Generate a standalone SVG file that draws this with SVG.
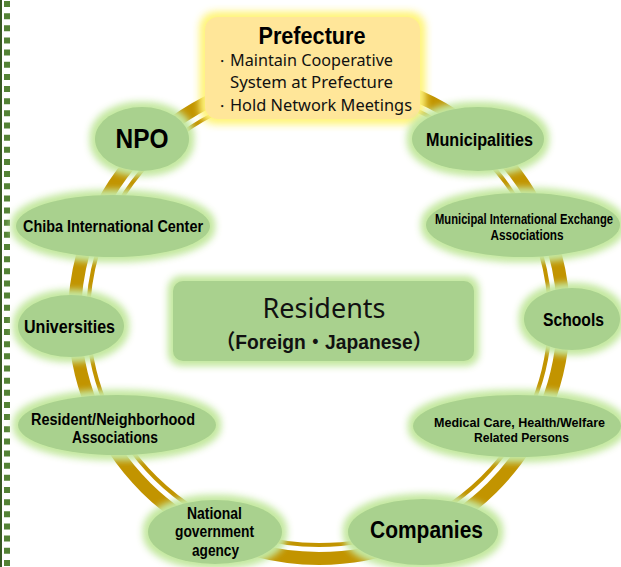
<svg xmlns="http://www.w3.org/2000/svg" width="621" height="567" viewBox="0 0 621 567">
<defs>
<style>
.node{fill:#A9D18E;}
.lbl{font-family:"Liberation Sans",Arial,sans-serif;font-weight:bold;fill:#000;text-anchor:middle;}
.reg{font-family:"Noto Sans","Liberation Sans",sans-serif;fill:#111;}
.ring{fill:none;stroke:#C29400;}
</style>
<filter id="gG" x="-30%" y="-40%" width="160%" height="180%">
<feMorphology in="SourceAlpha" operator="dilate" radius="3" result="d"/>
<feGaussianBlur in="d" stdDeviation="4" result="b"/>
<feFlood flood-color="#C4E8A0"/>
<feComposite in2="b" operator="in" result="g"/>
<feMerge><feMergeNode in="g"/><feMergeNode in="g"/><feMergeNode in="SourceGraphic"/></feMerge>
</filter>
<filter id="gY" x="-20%" y="-30%" width="140%" height="160%">
<feMorphology in="SourceAlpha" operator="dilate" radius="3" result="d"/>
<feGaussianBlur in="d" stdDeviation="5" result="b"/>
<feFlood flood-color="#FFF47A"/>
<feComposite in2="b" operator="in" result="g"/>
<feMerge><feMergeNode in="g"/><feMergeNode in="g"/><feMergeNode in="SourceGraphic"/></feMerge>
</filter>
</defs>
<rect width="621" height="567" fill="#fff"/>
<g id="border">
<line x1="1" y1="0" x2="1" y2="567" stroke="#385723" stroke-width="2"/>
<line x1="7" y1="1" x2="7" y2="567" stroke="#548235" stroke-width="6" stroke-dasharray="6 6.15"/>
</g>
<g id="connectors">
<ellipse class="ring" cx="319" cy="317" rx="244.5" ry="241.5" stroke-width="13"/>
<ellipse class="ring" cx="319" cy="317" rx="231" ry="228" stroke-width="4"/>
</g>
<g id="prefecture">
<rect x="205" y="17" width="215" height="102" rx="13" fill="#FFE699" filter="url(#gY)"/>
<text class="lbl" x="312" y="44" font-size="23" textLength="107" lengthAdjust="spacingAndGlyphs">Prefecture</text>
<text class="reg" x="222" y="65.5" font-size="14" text-anchor="middle">・</text>
<text class="reg" x="230" y="65.5" font-size="16" textLength="163" lengthAdjust="spacingAndGlyphs">Maintain Cooperative</text>
<text class="reg" x="230" y="88" font-size="16" textLength="163" lengthAdjust="spacingAndGlyphs">System at Prefecture</text>
<text class="reg" x="222" y="111" font-size="14" text-anchor="middle">・</text>
<text class="reg" x="230" y="111" font-size="16" textLength="182" lengthAdjust="spacingAndGlyphs">Hold Network Meetings</text>
</g>
<g id="npo">
<ellipse class="node" cx="142" cy="139" rx="47" ry="32" filter="url(#gG)"/>
<text class="lbl" x="142" y="148" font-size="27" textLength="53" lengthAdjust="spacingAndGlyphs">NPO</text>
</g>
<g id="municipalities">
<ellipse class="node" cx="478" cy="139" rx="66" ry="32" filter="url(#gG)"/>
<text class="lbl" x="479.5" y="146" font-size="18" textLength="107" lengthAdjust="spacingAndGlyphs">Municipalities</text>
</g>
<g id="chiba">
<ellipse class="node" cx="113" cy="226" rx="97" ry="31" filter="url(#gG)"/>
<text class="lbl" x="113" y="232" font-size="17" textLength="180" lengthAdjust="spacingAndGlyphs">Chiba International Center</text>
</g>
<g id="mie">
<ellipse class="node" cx="523" cy="225" rx="97" ry="32" filter="url(#gG)"/>
<text class="lbl" x="524" y="224" font-size="14" textLength="178" lengthAdjust="spacingAndGlyphs">Municipal International Exchange</text>
<text class="lbl" x="527" y="240" font-size="14" textLength="73" lengthAdjust="spacingAndGlyphs">Associations</text>
</g>
<g id="universities">
<ellipse class="node" cx="71" cy="326" rx="53" ry="31" filter="url(#gG)"/>
<text class="lbl" x="69.5" y="333" font-size="18" textLength="91" lengthAdjust="spacingAndGlyphs">Universities</text>
</g>
<g id="schools">
<ellipse class="node" cx="572" cy="319" rx="48" ry="31" filter="url(#gG)"/>
<text class="lbl" x="573.5" y="326" font-size="18" textLength="61" lengthAdjust="spacingAndGlyphs">Schools</text>
</g>
<g id="residents">
<rect x="173" y="281" width="301" height="80" rx="10" fill="#A9D18E" filter="url(#gG)"/>
<text x="324" y="318" font-family="'Noto Sans','Liberation Sans',sans-serif" font-size="28" text-anchor="middle" fill="#111" textLength="123" lengthAdjust="spacingAndGlyphs">Residents</text>
<text x="324" y="349" font-family="'Liberation Sans','Noto Sans CJK JP',sans-serif" font-weight="bold" font-size="21" text-anchor="middle" fill="#111" textLength="216" lengthAdjust="spacingAndGlyphs">（Foreign・Japanese）</text>
</g>
<g id="neighborhood">
<ellipse class="node" cx="117" cy="425" rx="99" ry="30" filter="url(#gG)"/>
<text class="lbl" x="113" y="425" font-size="16" textLength="164" lengthAdjust="spacingAndGlyphs">Resident/Neighborhood</text>
<text class="lbl" x="115" y="443" font-size="16" textLength="86" lengthAdjust="spacingAndGlyphs">Associations</text>
</g>
<g id="medical">
<ellipse class="node" cx="517" cy="426" rx="104" ry="31" filter="url(#gG)"/>
<text class="lbl" x="519.5" y="427" font-size="13" textLength="171" lengthAdjust="spacingAndGlyphs">Medical Care, Health/Welfare</text>
<text class="lbl" x="521.5" y="442" font-size="13" textLength="95" lengthAdjust="spacingAndGlyphs">Related Persons</text>
</g>
<g id="national">
<ellipse class="node" cx="215" cy="532" rx="67" ry="32" filter="url(#gG)"/>
<text class="lbl" x="214.5" y="519" font-size="16" textLength="55" lengthAdjust="spacingAndGlyphs">National</text>
<text class="lbl" x="214.5" y="537" font-size="16" textLength="79" lengthAdjust="spacingAndGlyphs">government</text>
<text class="lbl" x="215.5" y="556" font-size="16" textLength="47" lengthAdjust="spacingAndGlyphs">agency</text>
</g>
<g id="companies">
<ellipse class="node" cx="423" cy="532" rx="75" ry="33" filter="url(#gG)"/>
<text class="lbl" x="426.5" y="538" font-size="23" textLength="113" lengthAdjust="spacingAndGlyphs">Companies</text>
</g>
</svg>
